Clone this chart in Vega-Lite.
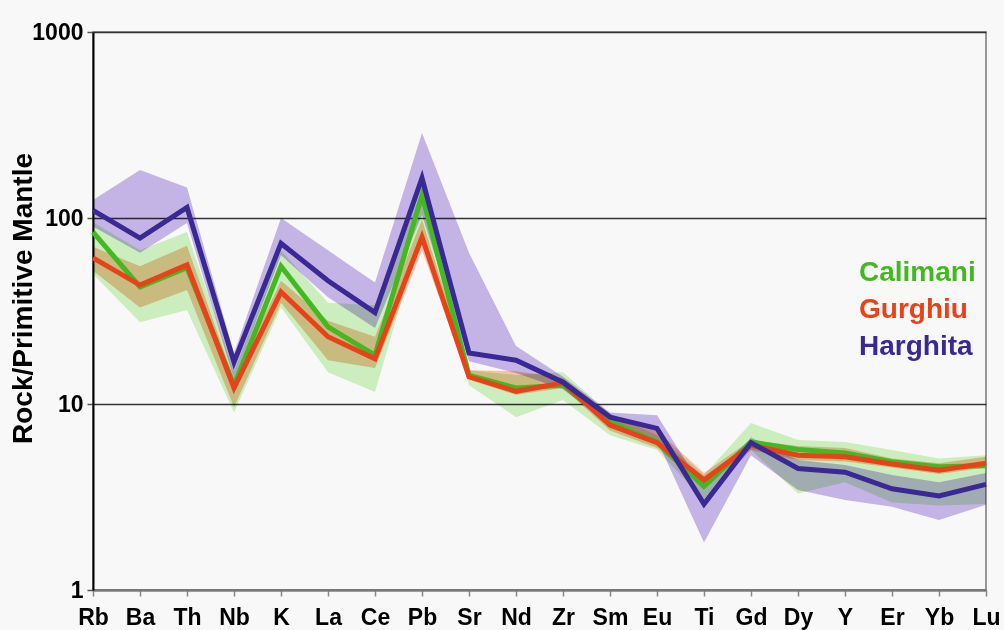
{
  "$schema": "https://vega.github.io/schema/vega-lite/v6.json",
  "width": 893,
  "height": 558,
  "autosize": {"type": "none"},
  "padding": {"left": 93, "top": 32, "right": 18, "bottom": 40},
  "background": "#f8f8f8",
  "config": {
    "view": {"stroke": "#777777", "strokeWidth": 1.5},
    "font": "Liberation Sans"
  },
  "data": {
    "values": [
      {"el": "Rb", "series": "Calimani", "v": 84, "lo": 50, "hi": 95},
      {"el": "Ba", "series": "Calimani", "v": 42.6, "lo": 27.5, "hi": 67},
      {"el": "Th", "series": "Calimani", "v": 54, "lo": 32, "hi": 84},
      {"el": "Nb", "series": "Calimani", "v": 12.6, "lo": 9, "hi": 15},
      {"el": "K", "series": "Calimani", "v": 55, "lo": 33, "hi": 67},
      {"el": "La", "series": "Calimani", "v": 26, "lo": 14.8, "hi": 35},
      {"el": "Ce", "series": "Calimani", "v": 18.3, "lo": 11.6, "hi": 34},
      {"el": "Pb", "series": "Calimani", "v": 133, "lo": 86, "hi": 141},
      {"el": "Sr", "series": "Calimani", "v": 14.3, "lo": 12.6, "hi": 15.2},
      {"el": "Nd", "series": "Calimani", "v": 12.2, "lo": 8.5, "hi": 14.3},
      {"el": "Zr", "series": "Calimani", "v": 12.6, "lo": 10.5, "hi": 14.8},
      {"el": "Sm", "series": "Calimani", "v": 8.0, "lo": 6.8, "hi": 8.9},
      {"el": "Eu", "series": "Calimani", "v": 6.25, "lo": 5.65, "hi": 6.8},
      {"el": "Ti", "series": "Calimani", "v": 3.6, "lo": 3.05, "hi": 4.15},
      {"el": "Gd", "series": "Calimani", "v": 6.25, "lo": 5.65, "hi": 7.9},
      {"el": "Dy", "series": "Calimani", "v": 5.7, "lo": 3.3, "hi": 6.4},
      {"el": "Y", "series": "Calimani", "v": 5.45, "lo": 3.8, "hi": 6.25},
      {"el": "Er", "series": "Calimani", "v": 4.9, "lo": 2.95, "hi": 5.65},
      {"el": "Yb", "series": "Calimani", "v": 4.6, "lo": 2.85, "hi": 5.1},
      {"el": "Lu", "series": "Calimani", "v": 4.65, "lo": 2.9, "hi": 5.3},

      {"el": "Rb", "series": "Gurghiu", "v": 61, "lo": 52, "hi": 70},
      {"el": "Ba", "series": "Gurghiu", "v": 43.6, "lo": 33, "hi": 55},
      {"el": "Th", "series": "Gurghiu", "v": 56, "lo": 41, "hi": 71},
      {"el": "Nb", "series": "Gurghiu", "v": 12.2, "lo": 9.6, "hi": 13.5},
      {"el": "K", "series": "Gurghiu", "v": 40, "lo": 35, "hi": 46},
      {"el": "La", "series": "Gurghiu", "v": 23, "lo": 17.2, "hi": 28},
      {"el": "Ce", "series": "Gurghiu", "v": 17.5, "lo": 15.6, "hi": 23},
      {"el": "Pb", "series": "Gurghiu", "v": 79, "lo": 67, "hi": 98},
      {"el": "Sr", "series": "Gurghiu", "v": 14, "lo": 13.5, "hi": 15.2},
      {"el": "Nd", "series": "Gurghiu", "v": 11.7, "lo": 11.2, "hi": 15},
      {"el": "Zr", "series": "Gurghiu", "v": 13, "lo": 12.2, "hi": 13.8},
      {"el": "Sm", "series": "Gurghiu", "v": 7.7, "lo": 7.2, "hi": 8.7},
      {"el": "Eu", "series": "Gurghiu", "v": 6.2, "lo": 5.8, "hi": 7.2},
      {"el": "Ti", "series": "Gurghiu", "v": 3.9, "lo": 3.6, "hi": 4.25},
      {"el": "Gd", "series": "Gurghiu", "v": 6.0, "lo": 5.65, "hi": 6.4},
      {"el": "Dy", "series": "Gurghiu", "v": 5.3, "lo": 5.0, "hi": 5.95},
      {"el": "Y", "series": "Gurghiu", "v": 5.2, "lo": 4.9, "hi": 5.8},
      {"el": "Er", "series": "Gurghiu", "v": 4.76, "lo": 4.55, "hi": 5.1},
      {"el": "Yb", "series": "Gurghiu", "v": 4.4, "lo": 4.2, "hi": 4.8},
      {"el": "Lu", "series": "Gurghiu", "v": 4.8, "lo": 4.55, "hi": 5.2},

      {"el": "Rb", "series": "Harghita", "v": 110, "lo": 90, "hi": 125},
      {"el": "Ba", "series": "Harghita", "v": 78, "lo": 65, "hi": 181},
      {"el": "Th", "series": "Harghita", "v": 114, "lo": 94, "hi": 146},
      {"el": "Nb", "series": "Harghita", "v": 16.8, "lo": 13.5, "hi": 18.8},
      {"el": "K", "series": "Harghita", "v": 73, "lo": 63, "hi": 100},
      {"el": "La", "series": "Harghita", "v": 46, "lo": 37.5, "hi": 67},
      {"el": "Ce", "series": "Harghita", "v": 31, "lo": 25.6, "hi": 45},
      {"el": "Pb", "series": "Harghita", "v": 164, "lo": 104, "hi": 286},
      {"el": "Sr", "series": "Harghita", "v": 18.8, "lo": 17, "hi": 65},
      {"el": "Nd", "series": "Harghita", "v": 17.2, "lo": 14.7, "hi": 20.5},
      {"el": "Zr", "series": "Harghita", "v": 13.1, "lo": 12, "hi": 14},
      {"el": "Sm", "series": "Harghita", "v": 8.5, "lo": 7.7, "hi": 9.0},
      {"el": "Eu", "series": "Harghita", "v": 7.4, "lo": 6.4, "hi": 8.7},
      {"el": "Ti", "series": "Harghita", "v": 2.9, "lo": 1.8, "hi": 3.45},
      {"el": "Gd", "series": "Harghita", "v": 6.2, "lo": 5.3, "hi": 6.6},
      {"el": "Dy", "series": "Harghita", "v": 4.5, "lo": 3.45, "hi": 5.0},
      {"el": "Y", "series": "Harghita", "v": 4.3, "lo": 3.05, "hi": 4.7},
      {"el": "Er", "series": "Harghita", "v": 3.5, "lo": 2.8, "hi": 4.15},
      {"el": "Yb", "series": "Harghita", "v": 3.2, "lo": 2.38, "hi": 3.8},
      {"el": "Lu", "series": "Harghita", "v": 3.7, "lo": 2.87, "hi": 4.25}
    ]
  },
  "encoding": {
    "x": {
      "field": "el",
      "type": "nominal",
      "sort": ["Rb","Ba","Th","Nb","K","La","Ce","Pb","Sr","Nd","Zr","Sm","Eu","Ti","Gd","Dy","Y","Er","Yb","Lu"],
      "scale": {"type": "point", "padding": 0},
      "axis": {
        "title": null,
        "labelAngle": 0,
        "labelFont": "Liberation Sans",
        "labelFontWeight": "bold",
        "labelFontSize": 23,
        "labelColor": "#000000",
        "labelPadding": 10,
        "tickColor": "#888888",
        "tickSize": 6,
        "tickWidth": 1.5,
        "domainColor": "#777777",
        "domainWidth": 2,
        "grid": false
      }
    }
  },
  "layer": [
    {
      "mark": {"type": "area", "blend": "multiply", "interpolate": "linear"},
      "encoding": {
        "y": {
          "field": "lo",
          "type": "quantitative",
          "scale": {"type": "log", "domain": [1, 1000]},
          "axis": {
            "values": [1, 10, 100, 1000],
            "format": "d",
            "grid": true,
            "gridColor": "#333333",
            "gridWidth": 1.5,
            "domainColor": "#000000",
            "domainWidth": 2,
            "tickColor": "#555555",
            "tickSize": 6,
            "tickWidth": 1.5,
            "labelFont": "Liberation Sans",
            "labelFontWeight": "bold",
            "labelFontSize": 23,
            "labelColor": "#000000",
            "labelPadding": 4,
            "title": "Rock/Primitive Mantle",
            "titleFont": "Liberation Sans",
            "titleFontWeight": "bold",
            "titleFontSize": 28,
            "titleColor": "#000000",
            "titleX": -56,
            "titleY": 266
          }
        },
        "y2": {"field": "hi"},
        "fill": {
          "field": "series",
          "type": "nominal",
          "scale": {"domain": ["Harghita", "Gurghiu", "Calimani"], "range": ["#cab9ec", "#fcc8ac", "#d2f4c4"]},
          "legend": null
        }
      }
    },
    {
      "mark": {"type": "line", "strokeWidth": 5, "strokeJoin": "miter"},
      "encoding": {
        "y": {"field": "v", "type": "quantitative"},
        "color": {
          "field": "series",
          "type": "nominal",
          "scale": {"domain": ["Calimani", "Gurghiu", "Harghita"], "range": ["#44b822", "#e8421a", "#3a2894"]},
          "legend": {
            "orient": "none",
            "legendX": 738,
            "legendY": 227,
            "title": null,
            "padding": 0,
            "symbolOpacity": 0,
            "symbolSize": 1,
            "labelOffset": 0,
            "labelFont": "Liberation Sans",
            "labelFontWeight": "bold",
            "labelFontSize": 28,
            "rowPadding": 9,
            "labelColor": {"expr": "scale('color', datum.value)"}
          }
        },
        "detail": {"field": "series"},
        "order": {"field": "series"}
      }
    }
  ]
}
